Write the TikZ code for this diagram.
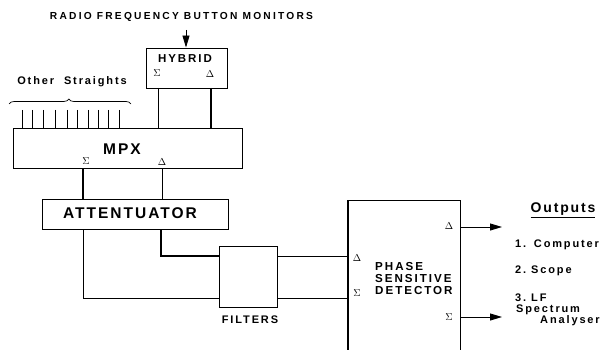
\documentclass[tikz,border=0pt]{standalone}
\usepackage{fontspec}
\setmainfont{Liberation Sans}
\newfontfamily\lsA[LetterSpace=13]{Liberation Sans}
\newfontfamily\lsB[LetterSpace=22]{Liberation Sans}
\newfontfamily\lsC[LetterSpace=17]{Liberation Sans}
\usetikzlibrary{arrows.meta,decorations.pathreplacing}
\begin{document}
\begin{tikzpicture}[x=1pt,y=-1pt,
  box/.style={draw,line width=0.9pt},
  wire/.style={line width=0.7pt},
  thick wire/.style={line width=1.2pt},
  arr/.style={line width=0.9pt,-{Triangle[length=12pt,width=7pt]}},
  lbl/.style={inner sep=0pt,font=\lsC\bfseries\fontsize{11}{12}\selectfont},
  big/.style={inner sep=0pt,font=\lsA\bfseries\fontsize{15.5}{18}\selectfont},
  sym/.style={inner sep=0pt,font=\fontsize{10}{10}\selectfont}]
\useasboundingbox (0,0) rectangle (607,350);
% title and arrow
\node[inner sep=0pt,font=\lsB\bfseries\fontsize{10.2}{12}\selectfont] (title) at (181.5,17) {RADIO FREQUENCY BUTTON MONITORS};
\coordinate (rfin) at (186,30);
% hybrid
\node[box,minimum width=81pt,minimum height=40pt,inner sep=0pt] (hyb) at (186.5,68) {};
\node[lbl,font=\lsC\bfseries\fontsize{11.5}{12}\selectfont] (hybt) at (185,59) {HYBRID};
\node[sym] (hs) at (157,73) {$\Sigma$};
\node[sym] (hd) at (210,74) {$\Delta$};
\draw[arr] (rfin) -- (hyb.north -| rfin);
% MPX
\node[box,minimum width=229pt,minimum height=40pt,inner sep=0pt] (mpx) at (127.5,148) {};
\node[big] (mpxt) at (122,149.5) {MPX};
\node[sym] (ms) at (86,161) {$\Sigma$};
\node[sym] (md) at (162,162) {$\Delta$};
\coordinate (h1) at (158,88);
\coordinate (h2) at (211,88);
\draw[wire] (h1) -- (h1 |- mpx.north);
\draw[thick wire] (h2) -- (h2 |- mpx.north);
% straights
\foreach \xx in {22,32,43,55,67,77,88,98,108,119}{
  \coordinate (t\xx) at (\xx,110);
  \draw[wire] (t\xx) -- (t\xx |- mpx.north);
}
\coordinate (bl) at (9,104);
\coordinate (br) at (131,104);
\draw[wire,decorate,decoration={brace,amplitude=5pt,aspect=0.49}] (bl) -- (br);
\node[lbl] (other) at (72,82) {Other\hspace{0.9em}Straights};
% attenuator
\node[box,minimum width=186pt,minimum height=30pt,inner sep=0pt] (att) at (135,214) {};
\node[big] (attt) at (130,213.5) {ATTENTUATOR};
\coordinate (m1) at (83,168);
\coordinate (m2) at (162,168);
\draw[thick wire] (m1) -- (m1 |- att.north);
\draw[wire] (m2) -- (m2 |- att.north);
% filters
\node[box,minimum width=58pt,minimum height=61pt,inner sep=0pt] (fil) at (248,276.5) {};
\node[lbl] (filt) at (250,320) {FILTERS};
\coordinate (a1) at (83,229);
\coordinate (a2) at (161,229);
\coordinate (f1) at (219,298);
\coordinate (f2) at (219,256);
\draw[wire] (a1) |- (f1);
\draw[thick wire] (a2) |- (f2);
% PSD
\coordinate (p1) at (348,200);
\coordinate (p2) at (460,200);
\coordinate (p3) at (348,360);
\coordinate (p4) at (460,360);
\draw[box] (p1) -- (p2) -- (p4);
\draw[line width=1.4pt] (p1) -- (p3);
\draw[wire] (fil.east |- f2) -- (p1 |- f2);
\draw[wire] (fil.east |- f1) -- (p1 |- f1);
\node[sym] (pdl) at (357,258) {$\Delta$};
\node[sym] (psl) at (357,293) {$\Sigma$};
\node[sym] (pdr) at (449,226) {$\Delta$};
\node[sym] (psr) at (449,317) {$\Sigma$};
\node[inner sep=0pt,font=\lsC\bfseries\fontsize{11.6}{11.6}\selectfont,anchor=north west,align=left] (psdt) at (375,262.5) {PHASE\\SENSITIVE\\DETECTOR};
\coordinate (o1) at (502,227);
\coordinate (o2) at (502,317);
\draw[arr] (p2 |- o1) -- (o1);
\draw[arr] (p2 |- o2) -- (o2);
% outputs
\node[inner sep=0pt,font=\lsA\bfseries\fontsize{14}{16}\selectfont] (outs) at (563,210) {\underline{Outputs}};
\node[lbl,anchor=base west] (o1t) at (515,247) {1.\hspace{0.7em}Computer};
\node[lbl,anchor=base west] (o2t) at (515,273) {2.\ Scope};
\node[lbl,anchor=base west] (o3t) at (515,301) {3.\ LF};
\node[lbl,anchor=base west] (o3b) at (516,312) {Spectrum};
\node[lbl,anchor=base west] (o3c) at (540,323.5) {Analyser};
\end{tikzpicture}
\end{document}
